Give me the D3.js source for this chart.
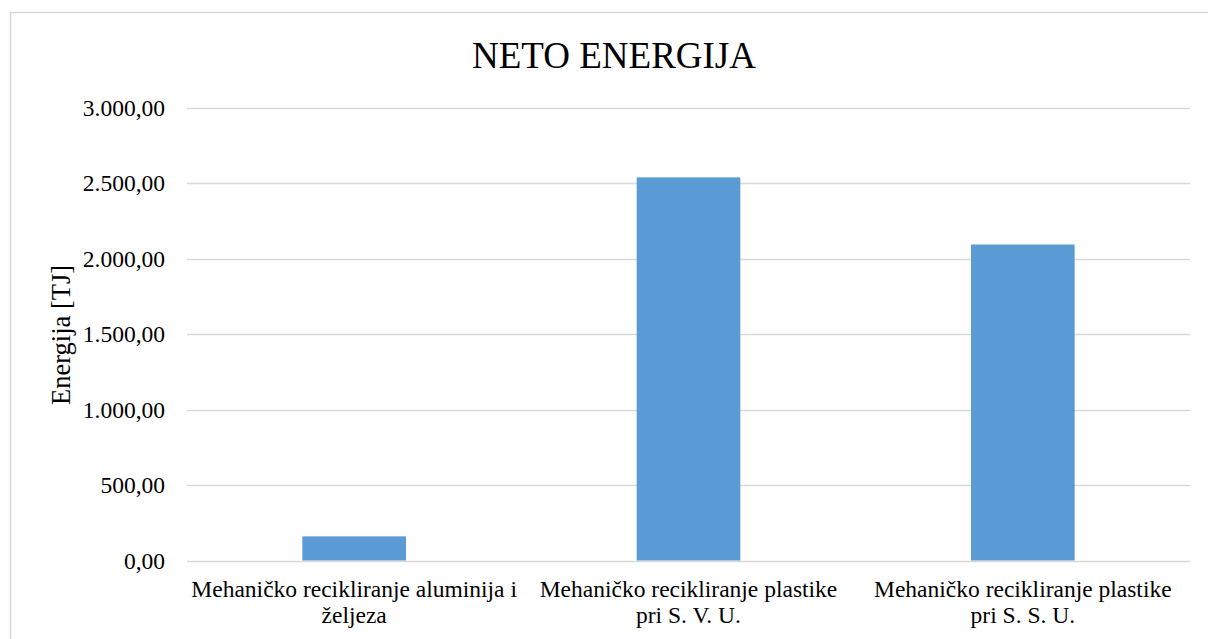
<!DOCTYPE html>
<html><head><meta charset="utf-8">
<script src="https://cdn.jsdelivr.net/npm/d3@7"></script>
<style>html,body{margin:0;padding:0;background:#fff;}svg{display:block;}</style>
</head><body>
<script>
const categories = [
  ["Mehaničko recikliranje aluminija i", "željeza"],
  ["Mehaničko recikliranje plastike", "pri S. V. U."],
  ["Mehaničko recikliranje plastike", "pri S. S. U."]
];
const values = [160, 2540, 2095];
const yTicks = [0, 500, 1000, 1500, 2000, 2500, 3000];
const title = "NETO ENERGIJA";
const yTitle = "Energija [TJ]";

const W = 1208, H = 639;
const m = {left: 187, right: 18, top: 108, bottom: 78.5};
const font = "Liberation Serif, Times New Roman, serif";

const svg = d3.select("body").append("svg").attr("width", W).attr("height", H)
  .style("font-family", font);
svg.append("rect").attr("width", W).attr("height", H).attr("fill", "#fff");
svg.append("rect").attr("x", 10.5).attr("y", 12.5).attr("width", W + 20).attr("height", H + 20)
  .attr("fill", "none").attr("stroke", "#d9d9d9").attr("stroke-width", 1.5);

const x = d3.scaleBand().domain(d3.range(categories.length))
  .range([m.left, W - m.right]).paddingInner(0.69).paddingOuter(0.345);
const y = d3.scaleLinear().domain([0, 3000]).range([H - m.bottom, m.top]);

const fmt = v => {
  const s = d3.format(",.2f")(v);
  return s.replace(/,/g, "#").replace(".", ",").replace(/#/g, ".");
};

// gridlines
svg.append("g").selectAll("line").data(yTicks).join("line")
  .attr("x1", m.left).attr("x2", W - m.right)
  .attr("y1", d => Math.round(y(d)) + 0.5).attr("y2", d => Math.round(y(d)) + 0.5)
  .attr("stroke", "#d9d9d9").attr("stroke-width", 1.5);

// y axis labels
const yAxis = d3.axisLeft(y).tickValues(yTicks).tickFormat(fmt).tickSize(0).tickPadding(22);
const ga = svg.append("g").attr("transform", `translate(${m.left},0)`).call(yAxis);
ga.attr("font-family", null).attr("font-size", null);
ga.select(".domain").remove();
ga.selectAll("text").style("font-family", font).attr("font-size", 23.5).attr("fill", "#000");

// bars
svg.append("g").selectAll("rect").data(values).join("rect")
  .attr("x", (d, i) => x(i)).attr("width", x.bandwidth())
  .attr("y", d => y(d)).attr("height", d => y(0) - y(d))
  .attr("fill", "#5b9bd5");

// category labels
const gl = svg.append("g");
categories.forEach((lines, i) => {
  const t = gl.append("text").attr("x", x(i) + x.bandwidth() / 2).attr("y", y(0) + 36)
    .attr("text-anchor", "middle").style("font-family", font).attr("font-size", 23.5).attr("fill", "#000");
  lines.forEach((l, j) => t.append("tspan").attr("x", x(i) + x.bandwidth() / 2).attr("dy", j ? 26 : 0).text(l));
});

// title
svg.append("text").attr("x", 614).attr("y", 68).attr("text-anchor", "middle")
  .style("font-family", font).attr("font-size", 37).attr("fill", "#000").text(title);

// y title
svg.append("text").attr("transform", `translate(70,335) rotate(-90)`).attr("text-anchor", "middle")
  .style("font-family", font).attr("font-size", 26.5).attr("fill", "#000").text(yTitle);
</script>
</body></html>
